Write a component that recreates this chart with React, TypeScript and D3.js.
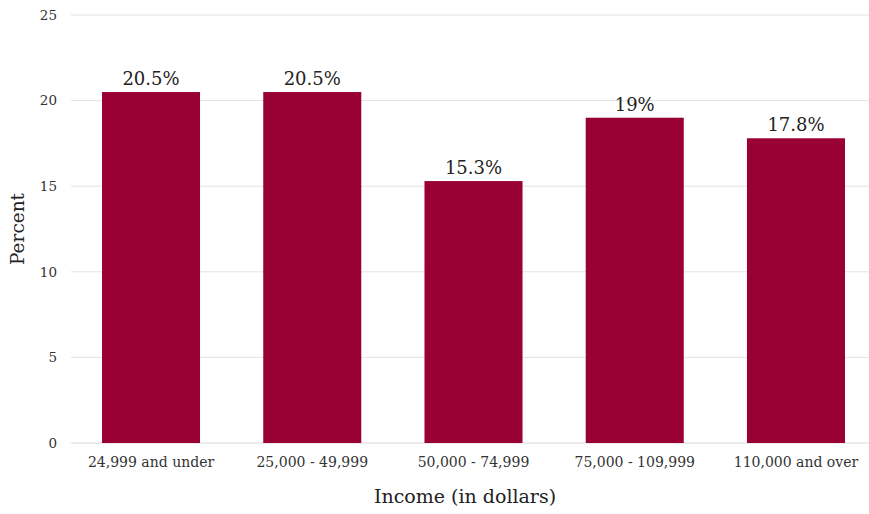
import { useMemo } from "react";
import * as d3 from "d3";

const categories = [
  "24,999 and under",
  "25,000 - 49,999",
  "50,000 - 74,999",
  "75,000 - 109,999",
  "110,000 and over",
];
const values = [20.5, 20.5, 15.3, 19, 17.8];
const valueLabels = ["20.5%", "20.5%", "15.3%", "19%", "17.8%"];
const yTicks = [0, 5, 10, 15, 20, 25];

const W = 869;
const H = 514;
const FONT = "'DejaVu Serif', serif";

export default function App() {
  const x = useMemo(
    () =>
      d3
        .scaleBand<string>()
        .domain(categories)
        .range([70.4, 876.6])
        .paddingInner(0.392)
        .paddingOuter(0.196),
    [],
  );
  const y = useMemo(
    () => d3.scaleLinear().domain([0, 25]).range([443, 15]),
    [],
  );

  return (
    <div style={{ position: "absolute", left: 0, top: 0 }}>
      <svg width={W} height={H} style={{ display: "block", background: "#fff" }}>
        {yTicks.map((t) => (
          <g key={t}>
            <line
              x1={71}
              x2={W}
              y1={y(t)}
              y2={y(t)}
              stroke={t === 0 ? "#d9d9d9" : "#e3e3e3"}
              strokeWidth={1}
            />
            <text
              x={57}
              y={y(t)}
              dy="0.35em"
              textAnchor="end"
              fontFamily={FONT}
              fontSize={13.5}
              fill="#333"
            >
              {t}
            </text>
          </g>
        ))}
        {categories.map((c, i) => (
          <g key={c}>
            <rect
              x={x(c)}
              y={y(values[i])}
              width={x.bandwidth()}
              height={y(0) - y(values[i])}
              fill="#990033"
            />
            <text
              x={(x(c) ?? 0) + x.bandwidth() / 2}
              y={y(values[i]) - 7}
              textAnchor="middle"
              fontFamily={FONT}
              fontSize={18}
              fill="#222"
            >
              {valueLabels[i]}
            </text>
            <text
              x={(x(c) ?? 0) + x.bandwidth() / 2}
              y={467}
              textAnchor="middle"
              fontFamily={FONT}
              fontSize={14}
              fill="#333"
            >
              {c}
            </text>
          </g>
        ))}
        <text
          transform={`translate(24,${y(12.5)}) rotate(-90)`}
          textAnchor="middle"
          fontFamily={FONT}
          fontSize={18.5}
          fill="#222"
        >
          Percent
        </text>
        <text
          x={465}
          y={503}
          textAnchor="middle"
          fontFamily={FONT}
          fontSize={19}
          fill="#222"
        >
          Income (in dollars)
        </text>
      </svg>
    </div>
  );
}
